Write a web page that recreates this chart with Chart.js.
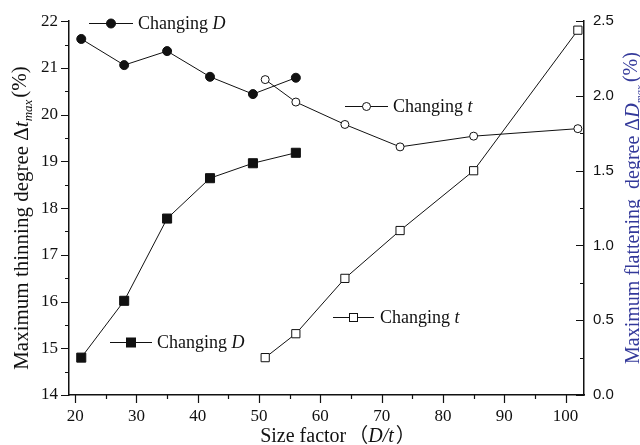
<!DOCTYPE html>
<html>
<head>
<meta charset="utf-8">
<script src="https://cdn.jsdelivr.net/npm/chart.js@4/dist/chart.umd.min.js"></script>
<style>
  html, body { margin: 0; padding: 0; background: #fff; }
  #c { display: block; }
</style>
</head>
<body>
<canvas id="c" width="640" height="445"></canvas>
<script>
// Size factor D/t for the two test groups
const sizeFactorD = [21, 28, 35, 42, 49, 56];
const sizeFactorT = [51, 56, 64, 73, 85, 102];

// Maximum thinning degree (%), left axis
const thinningD = [21.62, 21.06, 21.36, 20.81, 20.44, 20.79];
const thinningT = [20.75, 20.27, 19.79, 19.31, 19.54, 19.70];

// Maximum flattening degree (%), right axis
const flatteningD = [0.25, 0.63, 1.18, 1.45, 1.55, 1.62];
const flatteningT = [0.25, 0.41, 0.78, 1.10, 1.50, 2.44];

// Tick values
const xTicks = [20, 30, 40, 50, 60, 70, 80, 90, 100];
const xMinorTicks = [25, 35, 45, 55, 65, 75, 85, 95];
const leftTicks = [14, 15, 16, 17, 18, 19, 20, 21, 22];
const leftMinorTicks = [14.5, 15.5, 16.5, 17.5, 18.5, 19.5, 20.5, 21.5];
const rightTicks = [0, 0.5, 1.0, 1.5, 2.0, 2.5];
const rightMinorTicks = [0.25, 0.75, 1.25, 1.75, 2.25];

const SERIF = "'Liberation Serif','DejaVu Serif',serif";
const SANS = "'Liberation Sans','DejaVu Sans',sans-serif";
const INK = '#111111';
const BLUE = '#33399a';

const pairs = (xs, ys) => xs.map((x, i) => ({ x, y: ys[i] }));

function drawRich(ctx, segs, x, y) {
  for (const s of segs) {
    ctx.font = s.font;
    ctx.fillText(s.text, x + (s.dx || 0), y + (s.dy || 0));
    x += ctx.measureText(s.text).width + (s.dx || 0);
  }
}
function richWidth(ctx, segs) {
  let w = 0;
  for (const s of segs) { ctx.font = s.font; w += ctx.measureText(s.text).width + (s.dx || 0); }
  return w;
}

function legendMarker(ctx, kind, x, y) {
  ctx.lineWidth = 1;
  ctx.strokeStyle = INK;
  if (kind === 'dot' || kind === 'ring') {
    ctx.beginPath();
    ctx.arc(x, y, kind === 'dot' ? 4.5 : 4, 0, Math.PI * 2);
    ctx.fillStyle = kind === 'dot' ? INK : '#fff';
    ctx.fill(); ctx.stroke();
  } else {
    const h = kind === 'block' ? 4.5 : 4;
    ctx.fillStyle = kind === 'block' ? INK : '#fff';
    ctx.fillRect(x - h, y - h, 2 * h, 2 * h);
    ctx.strokeRect(x - h, y - h, 2 * h, 2 * h);
  }
}

const decorations = {
  id: 'decorations',
  afterDraw(chart) {
    const ctx = chart.ctx;
    const { x, yL, yR } = chart.scales;
    const area = chart.chartArea;
    ctx.save();

    // tick marks: left/bottom point outward, right points inward
    ctx.strokeStyle = INK;
    ctx.lineWidth = 1.2;
    ctx.beginPath();
    const tickL = (v, len) => { const p = Math.round(yL.getPixelForValue(v)) + 0.5; ctx.moveTo(area.left - len, p); ctx.lineTo(area.left, p); };
    const tickR = (v, len) => { const p = Math.round(yR.getPixelForValue(v)) + 0.5; ctx.moveTo(area.right - len, p); ctx.lineTo(area.right, p); };
    const tickB = (v, len) => { const p = Math.round(x.getPixelForValue(v)) + 0.5; ctx.moveTo(p, area.bottom); ctx.lineTo(p, area.bottom + len); };
    leftTicks.forEach(v => tickL(v, 8));
    leftMinorTicks.forEach(v => tickL(v, 4));
    rightTicks.forEach(v => tickR(v, 8));
    rightMinorTicks.forEach(v => tickR(v, 4));
    xTicks.forEach(v => tickB(v, 8));
    xMinorTicks.forEach(v => tickB(v, 4));
    ctx.stroke();

    // axis titles
    ctx.fillStyle = INK;
    ctx.textBaseline = 'alphabetic';
    const f = (size, style) => `${style || ''} ${size}px ${SERIF}`;

    const leftTitle = [
      { text: 'Maximum thinning degree Δ', font: f(21) },
      { text: 't', font: f(21, 'italic') },
      { text: 'max', font: f(13, 'italic'), dy: 4 },
      { text: '(%)', font: f(21), dx: 2, dy: -2 }
    ];
    ctx.save();
    ctx.translate(28, 218);
    ctx.rotate(-Math.PI / 2);
    drawRich(ctx, leftTitle, -richWidth(ctx, leftTitle) / 2, 0);
    ctx.restore();

    const rightTitle = [
      { text: 'Maximum flattening  degree Δ', font: f(20) },
      { text: 'D', font: f(20, 'italic') },
      { text: 'max', font: f(11, 'italic'), dy: 4 },
      { text: '(%)', font: f(20), dx: 3, dy: -2 }
    ];
    ctx.save();
    ctx.fillStyle = BLUE;
    ctx.translate(639, 208);
    ctx.rotate(-Math.PI / 2);
    drawRich(ctx, rightTitle, -richWidth(ctx, rightTitle) / 2, 0);
    ctx.restore();

    const bottomTitle = [
      { text: 'Size factor', font: f(20) },
      { text: '（', font: `20px 'Noto Sans CJK SC',${SERIF}`, dx: 2 },
      { text: 'D/t', font: f(20, 'italic') },
      { text: '）', font: `20px 'Noto Sans CJK SC',${SERIF}`, dx: 2 }
    ];
    drawRich(ctx, bottomTitle, 338 - richWidth(ctx, bottomTitle) / 2, 442);

    // in-plot legend entries
    const legends = [
      { kind: 'dot',   x1: 89,  x2: 133, y: 23,  tx: 138, label: 'D' },
      { kind: 'ring',  x1: 345, x2: 388, y: 106, tx: 393, label: 't' },
      { kind: 'block', x1: 110, x2: 152, y: 342, tx: 157, label: 'D' },
      { kind: 'box',   x1: 333, x2: 374, y: 317, tx: 380, label: 't' }
    ];
    for (const L of legends) {
      ctx.strokeStyle = INK;
      ctx.lineWidth = 1;
      ctx.beginPath();
      ctx.moveTo(L.x1, L.y + 0.5);
      ctx.lineTo(L.x2, L.y + 0.5);
      ctx.stroke();
      legendMarker(ctx, L.kind, (L.x1 + L.x2) / 2, L.y + 0.5);
      ctx.fillStyle = INK;
      drawRich(ctx, [
        { text: 'Changing ', font: f(18) },
        { text: L.label, font: f(18, 'italic') }
      ], L.tx, L.y + 6);
    }
    ctx.restore();
  }
};

const lineStyle = { borderColor: INK, borderWidth: 1, tension: 0, pointBorderColor: INK, pointBorderWidth: 1, pointHoverRadius: 0 };

new Chart(document.getElementById('c'), {
  type: 'line',
  data: {
    datasets: [
      { ...lineStyle, data: pairs(sizeFactorD, thinningD), yAxisID: 'yL', pointStyle: 'circle', pointRadius: 4.5, pointBackgroundColor: INK },
      { ...lineStyle, data: pairs(sizeFactorT, thinningT), yAxisID: 'yL', pointStyle: 'circle', pointRadius: 4, pointBackgroundColor: '#fff' },
      { ...lineStyle, data: pairs(sizeFactorD, flatteningD), yAxisID: 'yR', pointStyle: 'rect', pointRadius: 6.4, pointBackgroundColor: INK },
      { ...lineStyle, data: pairs(sizeFactorT, flatteningT), yAxisID: 'yR', pointStyle: 'rect', pointRadius: 5.8, pointBackgroundColor: '#fff' }
    ]
  },
  options: {
    responsive: false,
    animation: false,
    devicePixelRatio: 1,
    clip: false,
    layout: { padding: { top: 17, left: 0, right: 0, bottom: 0 } },
    plugins: { legend: { display: false }, tooltip: { enabled: false } },
    events: [],
    scales: {
      x: {
        type: 'linear',
        min: 19, max: 103,
        afterBuildTicks: s => { s.ticks = xTicks.map(v => ({ value: v })); },
        afterFit: s => { s.height = 50; },
        grid: { display: false, drawTicks: false },
        border: { display: true, color: INK, width: 1.5 },
        ticks: { padding: 11, color: INK, font: { family: SERIF, size: 17 } }
      },
      yL: {
        type: 'linear',
        position: 'left',
        min: 14, max: 22,
        afterBuildTicks: s => { s.ticks = leftTicks.map(v => ({ value: v })); },
        afterFit: s => { s.width = 69; },
        grid: { display: false, drawTicks: false },
        border: { display: true, color: INK, width: 1.5 },
        ticks: { padding: 11, color: INK, font: { family: SERIF, size: 17 } }
      },
      yR: {
        type: 'linear',
        position: 'right',
        min: 0, max: 2.5,
        afterBuildTicks: s => { s.ticks = rightTicks.map(v => ({ value: v })); },
        afterFit: s => { s.width = 56; },
        grid: { display: false, drawTicks: false },
        border: { display: true, color: INK, width: 1.5 },
        ticks: { padding: 9, color: INK, font: { family: SANS, size: 15 }, callback: v => v.toFixed(1) }
      }
    }
  },
  plugins: [decorations]
});
</script>
</body>
</html>
